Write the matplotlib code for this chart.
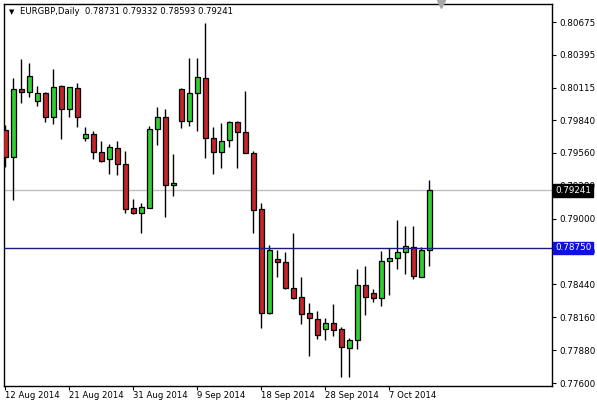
import matplotlib
matplotlib.use("Agg")
import matplotlib.pyplot as plt
import numpy as np
from matplotlib.lines import Line2D

symbol_title = "EURGBP,Daily  0.78731 0.79332 0.78593 0.79241"

opens = [0.79755, 0.79523, 0.80104, 0.80076, 0.79999, 0.80070, 0.79868, 0.80132, 0.79931, 0.80110,
         0.79684, 0.79718, 0.79565, 0.79506, 0.79602, 0.79463, 0.79088, 0.79046, 0.79093, 0.79764,
         0.79863, 0.79284, 0.80104, 0.79829, 0.80068, 0.80198, 0.79684, 0.79565, 0.79667, 0.79821,
         0.79735, 0.79557, 0.79080, 0.78194, 0.78654, 0.78628, 0.78407, 0.78330, 0.78194, 0.78143,
         0.78057, 0.78109, 0.78057, 0.77896, 0.77964, 0.78432, 0.78364, 0.78322, 0.78639, 0.78662,
         0.78713, 0.78756, 0.78506, 0.78731]
highs = [0.79798, 0.80195, 0.80357, 0.80328, 0.80130, 0.80075, 0.80275, 0.80138, 0.80125, 0.80155,
         0.79781, 0.79747, 0.79664, 0.79633, 0.79664, 0.79574, 0.79165, 0.79131, 0.79789, 0.79948,
         0.79931, 0.79551, 0.80110, 0.80371, 0.80371, 0.80664, 0.79781, 0.79815, 0.79832, 0.79830,
         0.80090, 0.79576, 0.79133, 0.78776, 0.78733, 0.78716, 0.78880, 0.78503, 0.78281, 0.78213,
         0.78154, 0.78273, 0.78080, 0.77983, 0.78571, 0.78597, 0.78401, 0.78722, 0.78750, 0.78988,
         0.78937, 0.78937, 0.78761, 0.79332]
lows = [0.79440, 0.79159, 0.79988, 0.80039, 0.79962, 0.79826, 0.79809, 0.79676, 0.79863, 0.79783,
        0.79664, 0.79511, 0.79485, 0.79378, 0.79369, 0.79046, 0.79040, 0.78875, 0.79088, 0.79630,
        0.79017, 0.79195, 0.79775, 0.79792, 0.79749, 0.79519, 0.79383, 0.79434, 0.79613, 0.79434,
        0.79555, 0.78875, 0.78071, 0.78190, 0.78506, 0.78403, 0.78318, 0.78105, 0.77833, 0.77977,
        0.77969, 0.78003, 0.77649, 0.77654, 0.77887, 0.78182, 0.78287, 0.78258, 0.78352, 0.78574,
        0.78531, 0.78489, 0.78500, 0.78593]
closes = [0.79528, 0.80102, 0.80076, 0.80215, 0.80070, 0.79868, 0.80121, 0.79931, 0.80121, 0.79868,
          0.79721, 0.79565, 0.79494, 0.79608, 0.79463, 0.79080, 0.79046, 0.79097, 0.79764, 0.79863,
          0.79284, 0.79304, 0.79829, 0.80070, 0.80207, 0.79684, 0.79565, 0.79659, 0.79823, 0.79735,
          0.79562, 0.79074, 0.78194, 0.78730, 0.78628, 0.78412, 0.78327, 0.78190, 0.78151, 0.78011,
          0.78109, 0.78049, 0.77904, 0.77964, 0.78432, 0.78330, 0.78322, 0.78639, 0.78662, 0.78713,
          0.78764, 0.78514, 0.78730, 0.79241]

date_tick_idx = [0, 8, 16, 24, 32, 40, 48]
date_tick_labels = ["12 Aug 2014", "21 Aug 2014", "31 Aug 2014", "9 Sep 2014",
                    "18 Sep 2014", "28 Sep 2014", "7 Oct 2014"]
price_ticks = [0.80675, 0.80395, 0.80115, 0.79840, 0.79560, 0.79280, 0.79000,
               0.78720, 0.78440, 0.78160, 0.77880, 0.77600]
price_tick_labels = ["0.80675", "0.80395", "0.80115", "0.79840", "0.79560", "0.79280",
                     "0.79000", "0.78720", "0.78440", "0.78160", "0.77880", "0.77600"]
bid_price = 0.79241
hline_price = 0.78750

W, H = 597, 407
fig = plt.figure(figsize=(W / 100, H / 100), dpi=100)
fig.patch.set_facecolor("white")
L, R, T, B = 4, 552, 4, 386
ax = fig.add_axes([L / W, 1 - B / H, (R - L) / W, (B - T) / H])

ppx = 0.00008518
y_top = 0.80675 + (22 - T) * ppx
y_bot = 0.80675 - (B - 22) * ppx
ax.set_ylim(y_bot, y_top)
x0 = 5.3
ax.set_xlim((L - x0) / 8.0, (R - x0) / 8.0)

green = "#33cc33"
red = "#c0262c"
x = np.arange(len(opens))
o = np.array(opens); c = np.array(closes); h = np.array(highs); lo = np.array(lows)

ax.axhline(bid_price, color="#c0c0c0", lw=1, zorder=1)
ax.axhline(hline_price, color="#1a1a80", lw=1, zorder=4)

ax.vlines(x, lo, h, color="black", lw=1, zorder=2)
body_bottom = np.minimum(o, c)
body_h = np.maximum(np.abs(c - o), 1.5 * ppx)
colors = [green if cc >= oo else red for oo, cc in zip(o, c)]
ax.bar(x, body_h, bottom=body_bottom, width=0.62, color=colors,
       edgecolor="black", linewidth=0.9, zorder=3)

for s in ax.spines.values():
    s.set_color("black")
    s.set_linewidth(1)

fs = 6.1
ax.yaxis.tick_right()
ax.set_yticks(price_ticks)
ax.set_yticklabels(price_tick_labels)
ax.tick_params(axis="y", direction="out", length=3, width=0.8, pad=2,
               labelsize=fs + 0.2, colors="black")
ax.set_xticks(date_tick_idx)
ax.set_xticklabels([])
ax.tick_params(axis="x", direction="out", length=3, width=0.8)
for lab_i, lab in zip(date_tick_idx, date_tick_labels):
    ax.annotate(lab, xy=(lab_i, 0), xycoords=("data", "axes fraction"),
                xytext=(-0.5, -10), textcoords="offset pixels",
                ha="left", va="center", fontsize=fs, color="black")

def price_box(p, txt, fc):
    ax.annotate(txt, xy=(1, p), xycoords=("axes fraction", "data"),
                xytext=(3, 0), textcoords="offset pixels",
                ha="left", va="center", fontsize=fs + 0.2, color="white",
                bbox=dict(boxstyle="square,pad=0.22", fc=fc, ec=fc),
                zorder=10, annotation_clip=False)

price_box(bid_price, "0.79241", "black")
price_box(hline_price, "0.78750", "#1010e0")

fig.text(9 / W, 1 - 12 / H, "\u25bc", fontsize=5.0, ha="left", va="center", color="black")
fig.text(20 / W, 1 - 12 / H, symbol_title, fontsize=fs, ha="left", va="center", color="black")

fig.add_artist(Line2D([440.5 / W], [1 - 4 / H], marker="v", markersize=6,
                      color="#a8a8a8", linestyle="none", transform=fig.transFigure))

fig.savefig("out.png", dpi=100)
